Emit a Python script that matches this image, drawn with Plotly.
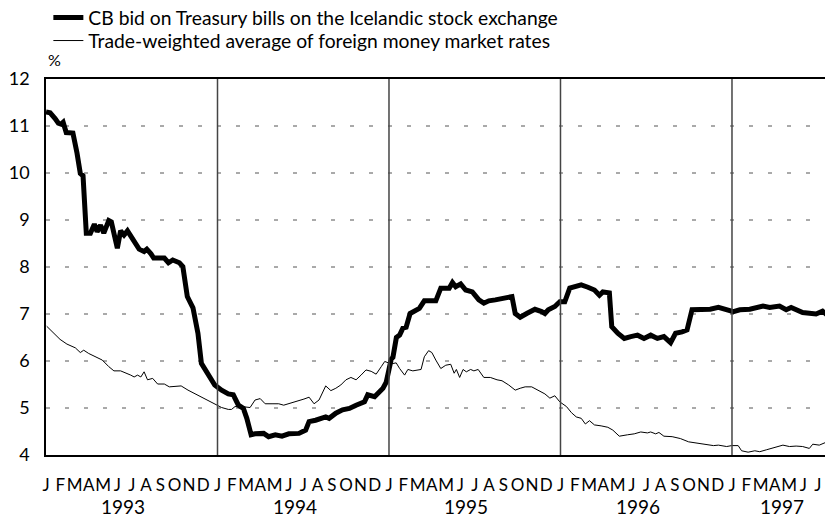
import plotly.graph_objects as go

# ---- data (time in decimal years) ----
cb_time = [1993.000, 1993.024, 1993.053, 1993.072, 1993.088, 1993.100, 1993.118, 1993.157, 1993.181, 1993.200,
           1993.216, 1993.235, 1993.259, 1993.282, 1993.298, 1993.318, 1993.337, 1993.366, 1993.381, 1993.416,
           1993.435, 1993.455, 1993.475, 1993.514, 1993.543, 1993.572, 1993.588, 1993.612, 1993.628, 1993.690,
           1993.714, 1993.739, 1993.778, 1993.798, 1993.824, 1993.857, 1993.886, 1993.906, 1993.945, 1993.984,
           1994.024, 1994.063, 1994.092, 1994.122, 1994.151, 1994.171, 1994.196, 1994.219, 1994.269, 1994.298,
           1994.337, 1994.376, 1994.416, 1994.475, 1994.514, 1994.534, 1994.572, 1994.631, 1994.651, 1994.690,
           1994.729, 1994.769, 1994.808, 1994.857, 1994.876, 1994.916, 1994.965, 1994.984,
           1995.013, 1995.023, 1995.043, 1995.062, 1995.081, 1995.100, 1995.123, 1995.149, 1995.177, 1995.206,
           1995.273, 1995.302, 1995.351, 1995.370, 1995.389, 1995.418, 1995.447, 1995.486, 1995.524, 1995.553,
           1995.582, 1995.620, 1995.659, 1995.717, 1995.736, 1995.765, 1995.803, 1995.851, 1995.890, 1995.909,
           1995.929, 1995.967, 1995.996,
           1996.025, 1996.054, 1996.083, 1996.121, 1996.160, 1996.198, 1996.227, 1996.247, 1996.285, 1996.299,
           1996.334, 1996.372, 1996.410, 1996.449, 1996.487, 1996.526, 1996.565, 1996.603, 1996.642, 1996.671,
           1996.709, 1996.738, 1996.767, 1996.815, 1996.873, 1996.921, 1996.969,
           1997.008, 1997.046, 1997.104, 1997.181, 1997.220, 1997.277, 1997.316, 1997.345, 1997.383, 1997.412,
           1997.490, 1997.528, 1997.577]
cb_bid = [11.30, 11.28, 11.16, 11.06, 11.04, 11.08, 10.86, 10.85, 10.42, 9.99,
          9.94, 8.72, 8.72, 8.91, 8.75, 8.89, 8.72, 8.99, 8.96, 8.40,
          8.77, 8.68, 8.77, 8.54, 8.38, 8.33, 8.38, 8.28, 8.19, 8.19,
          8.09, 8.15, 8.09, 8.01, 7.37, 7.13, 6.59, 5.95, 5.74, 5.49,
          5.38, 5.30, 5.28, 5.06, 4.99, 4.78, 4.43, 4.45, 4.46, 4.39,
          4.43, 4.40, 4.45, 4.46, 4.53, 4.71, 4.74, 4.81, 4.78, 4.89,
          4.96, 4.99, 5.06, 5.13, 5.28, 5.24, 5.42, 5.55,
          6.04, 6.08, 6.50, 6.55, 6.70, 6.72, 7.01, 7.07, 7.12, 7.28,
          7.28, 7.55, 7.55, 7.67, 7.58, 7.64, 7.51, 7.47, 7.30, 7.23,
          7.28, 7.30, 7.33, 7.37, 7.01, 6.93, 7.01, 7.10, 7.05, 7.01,
          7.09, 7.16, 7.26,
          7.26, 7.55, 7.58, 7.62, 7.57, 7.51, 7.40, 7.47, 7.45, 6.73,
          6.59, 6.48, 6.52, 6.55, 6.48, 6.55, 6.48, 6.52, 6.39, 6.59,
          6.62, 6.66, 7.09, 7.10, 7.10, 7.14, 7.10,
          7.05, 7.09, 7.10, 7.17, 7.14, 7.17, 7.09, 7.14, 7.09, 7.03,
          7.00, 7.06, 6.91]

fx_time = [1993.004, 1993.043, 1993.082, 1993.122, 1993.151, 1993.171, 1993.200, 1993.220, 1993.249, 1993.288,
           1993.328, 1993.366, 1993.396, 1993.435, 1993.465, 1993.494, 1993.514, 1993.534, 1993.553, 1993.572,
           1993.592, 1993.622, 1993.651, 1993.690, 1993.719, 1993.759, 1993.788, 1993.828, 1993.866, 1993.906,
           1993.945, 1993.984,
           1994.024, 1994.063, 1994.082, 1994.102, 1994.141, 1994.190, 1994.219, 1994.249, 1994.278, 1994.318,
           1994.357, 1994.386, 1994.435, 1994.475, 1994.504, 1994.534, 1994.563, 1994.592, 1994.612, 1994.631,
           1994.661, 1994.690, 1994.719, 1994.749, 1994.778, 1994.808, 1994.837, 1994.866, 1994.896, 1994.925,
           1994.955, 1994.975,
           1995.013, 1995.042, 1995.062, 1995.091, 1995.110, 1995.139, 1995.187, 1995.206, 1995.231, 1995.250,
           1995.273, 1995.302, 1995.331, 1995.360, 1995.380, 1995.393, 1995.412, 1995.432, 1995.451, 1995.476,
           1995.495, 1995.520, 1995.553, 1995.591, 1995.630, 1995.659, 1995.698, 1995.736, 1995.765, 1995.794,
           1995.832, 1995.871, 1995.909, 1995.938, 1995.967, 1995.996,
           1996.035, 1996.064, 1996.092, 1996.121, 1996.145, 1996.169, 1996.198, 1996.237, 1996.276, 1996.305,
           1996.343, 1996.391, 1996.430, 1996.468, 1996.507, 1996.526, 1996.555, 1996.574, 1996.603, 1996.651,
           1996.699, 1996.747, 1996.796, 1996.844, 1996.892, 1996.921, 1996.969, 1996.998,
           1997.036, 1997.056, 1997.094, 1997.133, 1997.162, 1997.200, 1997.249, 1997.297, 1997.335, 1997.374,
           1997.412, 1997.451, 1997.471, 1997.509, 1997.548, 1997.584]
fx_rate = [6.74, 6.59, 6.46, 6.36, 6.31, 6.28, 6.18, 6.23, 6.16, 6.09,
           6.02, 5.88, 5.79, 5.79, 5.75, 5.70, 5.66, 5.70, 5.66, 5.77,
           5.60, 5.63, 5.51, 5.51, 5.45, 5.47, 5.47, 5.38, 5.31, 5.24,
           5.17, 5.09,
           5.01, 4.97, 4.97, 5.03, 5.03, 5.01, 5.17, 5.20, 5.09, 5.09,
           5.09, 5.06, 5.11, 5.16, 5.19, 5.23, 5.09, 5.17, 5.31, 5.47,
           5.37, 5.42, 5.49, 5.60, 5.65, 5.60, 5.70, 5.81, 5.78, 5.72,
           5.88, 5.99,
           5.94, 5.96, 5.84, 5.70, 5.82, 5.79, 5.82, 6.09, 6.22, 6.18,
           6.02, 5.84, 5.91, 5.93, 5.74, 5.82, 5.65, 5.82, 5.77, 5.82,
           5.79, 5.82, 5.65, 5.65, 5.60, 5.58, 5.49, 5.38, 5.42, 5.45,
           5.45, 5.38, 5.30, 5.21, 5.26, 5.13,
           5.03, 4.90, 4.81, 4.78, 4.66, 4.73, 4.64, 4.62, 4.59, 4.53,
           4.40, 4.43, 4.45, 4.49, 4.47, 4.49, 4.45, 4.48, 4.40, 4.39,
           4.35, 4.28, 4.25, 4.23, 4.20, 4.21, 4.18, 4.20,
           4.20, 4.09, 4.06, 4.09, 4.07, 4.11, 4.16, 4.21, 4.18, 4.19,
           4.18, 4.14, 4.23, 4.21, 4.27, 4.31]

years = [1993, 1994, 1995, 1996, 1997]
month_letters = ["J", "F", "M", "A", "M", "J", "J", "A", "S", "O", "N", "D"]
y_ticks = [4, 5, 6, 7, 8, 9, 10, 11, 12]
grid_levels = [5, 6, 7, 8, 9, 10, 11]

series_names = ["CB bid on Treasury bills on the Icelandic stock exchange",
                "Trade-weighted average of foreign money market rates"]

FONT = "Lato"

# month ticks (Jan 1993 .. Jul 1997)
tickvals, ticktext = [], []
for y in years:
    for m, letter in enumerate(month_letters):
        if y == 1997 and m > 6:
            break
        tickvals.append(y + m / 12)
        ticktext.append(letter)

fig = go.Figure()

# dashed horizontal grid lines
for g in grid_levels:
    fig.add_shape(type="line", xref="paper", yref="y", x0=0, x1=1, y0=g, y1=g,
                  line=dict(color="#555", width=1, dash="4px,15px"), layer="below")

fig.add_trace(go.Scatter(x=cb_time, y=cb_bid, mode="lines", name=series_names[0],
                         line=dict(color="black", width=5), legend="legend"))
fig.add_trace(go.Scatter(x=fx_time, y=fx_rate, mode="lines", name=series_names[1],
                         line=dict(color="black", width=1), legend="legend2"))

# solid vertical lines at year boundaries
for y in years[1:]:
    fig.add_shape(type="line", xref="x", yref="paper", x0=y, x1=y, y0=0, y1=1,
                  line=dict(color="#444", width=1.5), layer="above")

# year labels
for y in years:
    xpos = y + 0.45 if y < 1997 else y + 0.29
    fig.add_annotation(x=xpos, y=-0.137, xref="x", yref="paper", text=str(y),
                       showarrow=False, yanchor="middle",
                       font=dict(family=FONT, size=19, color="black"))

fig.add_annotation(x=0.0, y=1.0, xref="paper", yref="paper", text="%",
                   showarrow=False, xanchor="left", yanchor="bottom", yshift=8, xshift=0,
                   font=dict(family=FONT, size=16, color="black"))

leg_common = dict(xanchor="left", yanchor="middle", bgcolor="rgba(0,0,0,0)",
                  font=dict(family=FONT, size=19.3), itemwidth=30)

# page body has an 8px margin: figure sized/offset to compensate
fig.update_layout(
    width=825, height=510, autosize=False,
    margin=dict(l=38, r=0, t=71, b=63, autoexpand=False),
    plot_bgcolor="white", paper_bgcolor="white",
    font=dict(family=FONT, size=16, color="black"),
    showlegend=True,
    legend=dict(x=0.003, y=1.0 + (79 - 18) / 376, **leg_common),
    legend2=dict(x=0.003, y=1.0 + (79 - 41) / 376, **leg_common),
    xaxis=dict(range=[1993.0, 1997.589], tickmode="array", tickvals=tickvals, ticktext=ticktext,
               showgrid=False, zeroline=False, showline=True, linecolor="black", linewidth=1.5,
               mirror=True, ticks="", ticklabelstandoff=14,
               tickfont=dict(family=FONT, size=17), tickangle=0),
    yaxis=dict(range=[4, 12], tickmode="array", tickvals=y_ticks,
               showgrid=False, zeroline=False, showline=True, linecolor="black", linewidth=1.5,
               ticks="", ticklabelstandoff=11, tickfont=dict(family=FONT, size=18)),
)

fig.write_html("out.html")
